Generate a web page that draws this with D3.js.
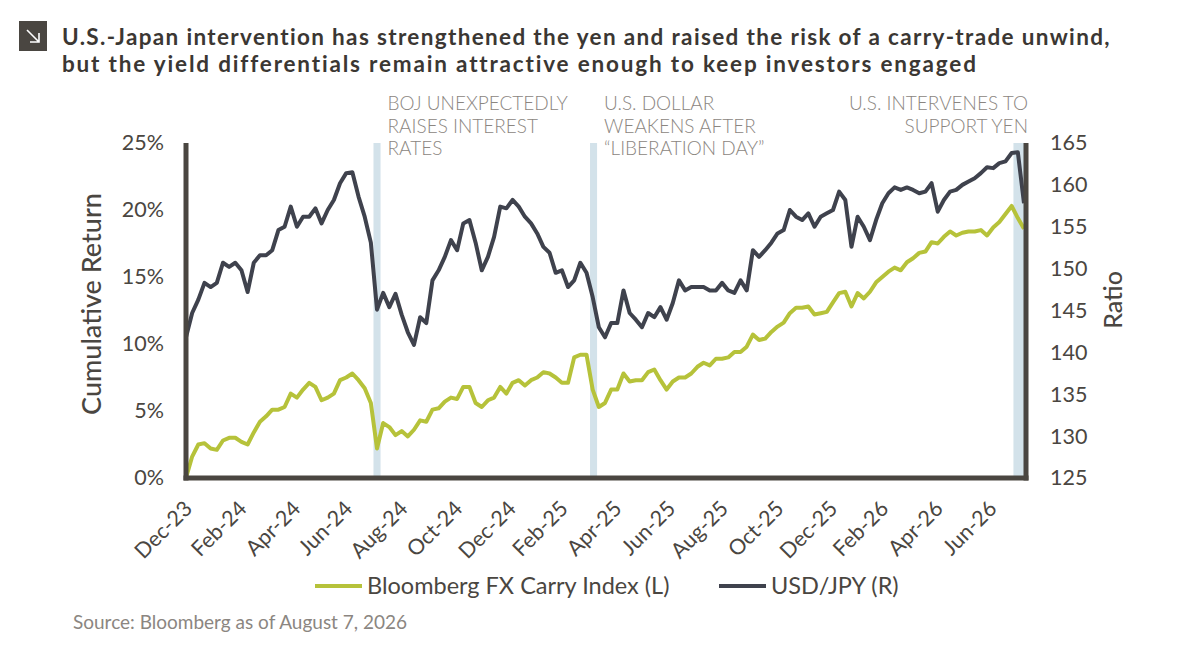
<!DOCTYPE html>
<html>
<head>
<meta charset="utf-8">
<script src="https://cdn.jsdelivr.net/npm/d3@7"></script>
<style>
  body { margin: 0; background: #fff; }
  svg { display: block; font-family: Lato, "Open Sans", sans-serif; }
</style>
</head>
<body>
<svg id="chart" width="1200" height="649"></svg>
<script>
// weekly closes, first Friday is 29 Dec 2023, last is 7 Aug 2026
var startDate = "2023-12-29";

var carryIndex = [
  0.0, 1.6, 2.5, 2.6, 2.2, 2.1, 2.8, 3.0, 3.0, 2.7,
  2.5, 3.4, 4.2, 4.6, 5.1, 5.1, 5.3, 6.3, 6.0, 6.6,
  7.1, 6.8, 5.8, 6.0, 6.3, 7.3, 7.5, 7.8, 7.3, 6.7,
  5.6, 2.2, 4.1, 3.8, 3.2, 3.5, 3.1, 3.6, 4.3, 4.2,
  5.1, 5.2, 5.7, 6.0, 5.9, 6.8, 6.8, 5.6, 5.3, 5.8,
  6.0, 6.8, 6.3, 7.1, 7.3, 6.9, 7.3, 7.5, 7.9, 7.8,
  7.5, 7.1, 7.1, 9.0, 9.2, 9.2, 6.6, 5.3, 5.6, 6.6,
  6.6, 7.8, 7.2, 7.3, 7.3, 7.9, 8.1, 7.3, 6.6, 7.2,
  7.5, 7.5, 7.8, 8.3, 8.6, 8.4, 8.9, 8.9, 9.0, 9.4,
  9.4, 9.8, 10.7, 10.3, 10.4, 10.9, 11.3, 11.6, 12.3, 12.7,
  12.7, 12.8, 12.2, 12.3, 12.4, 13.1, 13.8, 13.9, 12.8, 13.8,
  13.4, 13.9, 14.6, 15.0, 15.4, 15.7, 15.5, 16.1, 16.4, 16.8,
  16.9, 17.6, 17.5, 18.0, 18.4, 18.1, 18.3, 18.4, 18.4, 18.5,
  18.1, 18.7, 19.1, 19.7, 20.3, 19.4, 18.6
];

var usdJpy = [
  141.8, 144.7, 146.3, 148.3, 147.8, 148.3, 150.7, 150.2, 150.7, 149.8,
  147.2, 150.7, 151.6, 151.6, 152.2, 154.6, 155.0, 157.4, 155.0, 156.2,
  156.2, 157.2, 155.4, 157.0, 158.2, 160.2, 161.4, 161.5, 158.6, 156.2,
  153.1, 145.1, 147.1, 145.4, 147.0, 144.5, 142.4, 140.9, 144.2, 143.5,
  148.6, 149.8, 151.4, 153.4, 152.2, 155.4, 155.8, 153.1, 149.8, 151.4,
  153.8, 157.4, 157.2, 158.2, 157.4, 156.2, 155.4, 154.2, 152.6, 151.9,
  149.5, 149.8, 147.8, 148.6, 150.7, 149.5, 146.6, 143.0, 141.8, 143.5,
  143.5, 147.4, 144.7, 143.9, 143.0, 144.7, 144.2, 145.4, 143.9, 145.9,
  148.6, 147.4, 147.8, 147.8, 147.8, 147.4, 147.4, 148.3, 147.4, 147.1,
  148.6, 147.4, 152.2, 151.4, 152.2, 153.1, 154.2, 154.6, 157.0, 156.2,
  155.8, 156.6, 155.0, 156.2, 156.6, 157.0, 159.2, 158.2, 152.6, 156.2,
  155.0, 153.4, 155.8, 157.8, 159.0, 159.7, 159.4, 159.7, 159.4, 159.0,
  159.2, 160.2, 156.8, 158.2, 159.2, 159.4, 160.0, 160.4, 160.8, 161.4,
  162.1, 162.0, 162.6, 162.8, 163.8, 163.9, 157.8
];

var tickDates = [
  "2023-12-29", "2024-02-29", "2024-04-30", "2024-06-28", "2024-08-30", "2024-10-31",
  "2024-12-31", "2025-02-28", "2025-04-30", "2025-06-30", "2025-08-29", "2025-10-31",
  "2025-12-31", "2026-02-27", "2026-04-30", "2026-06-30"
];
var leftTicks = [0, 5, 10, 15, 20, 25];
var rightTicks = [125, 130, 135, 140, 145, 150, 155, 160, 165];

var events = [
  { from: "2024-07-29", to: "2024-08-06", label: ["BOJ UNEXPECTEDLY", "RAISES INTEREST", "RATES"], anchor: "start" },
  { from: "2025-04-01", to: "2025-04-09", label: ["U.S. DOLLAR", "WEAKENS AFTER", "\u201cLIBERATION DAY\u201d"], anchor: "start" },
  { from: "2026-07-26", to: "2026-08-07", label: ["U.S. INTERVENES TO", "SUPPORT YEN"], anchor: "end" }
];

var seriesNames = ["Bloomberg FX Carry Index (L)", "USD/JPY (R)"];
var titleLines = [
  "U.S.-Japan intervention has strengthened the yen and raised the risk of a carry-trade unwind,",
  "but the yield differentials remain attractive enough to keep investors engaged"
];
var sourceText = "Source: Bloomberg as of August 7, 2026";

var parse = d3.timeParse("%Y-%m-%d");
var t0 = parse(startDate);
var dates = carryIndex.map(function(d, i) { return d3.timeDay.offset(t0, 7 * i); });

var data = dates.map(function(d, i) { return { date: d, carry: carryIndex[i], jpy: usdJpy[i] }; });

var ink = "#4a4641", grayText = "#8b8681", lime = "#b6c23a", navy = "#3f424d", band = "#d3e2ea";

var margin = { top: 143, left: 186, right: 1026, bottom: 478 };

var svg = d3.select("#chart");

// ======== scales
var x = d3.scaleTime()
  .domain([t0, dates[dates.length - 1]])
  .range([margin.left, margin.right - 2]);

var yL = d3.scaleLinear().domain([0, 25]).range([margin.bottom, margin.top]);
var yR = d3.scaleLinear().domain([125, 165]).range([margin.bottom, margin.top]);

// ======== title
var icon = svg.append("g").attr("transform", "translate(19,21)");
icon.append("rect").attr("width", 28).attr("height", 30).attr("fill", ink);
icon.append("path")
  .attr("d", "M8,9 L20,21 M11,21 L20,21 L20,12")
  .attr("fill", "none").attr("stroke", "#fff").attr("stroke-width", 1.6);

var title = svg.append("g").attr("fill", "#3b3733").attr("font-weight", 700).attr("font-size", 22.5);
var titleWidths = [1048, 913];
titleLines.forEach(function(line, i) {
  var t = title.append("text").attr("x", 62).attr("y", 45 + i * 27).text(line);
  // stretch letter spacing so each line spans the same width as the original
  var spacing = (titleWidths[i] - t.node().getComputedTextLength()) / (line.length - 1);
  t.attr("letter-spacing", spacing);
});

// ======== event bands + notes
events.forEach(function(e) {
  var a = x(parse(e.from)), b = x(parse(e.to));
  svg.append("rect")
    .attr("x", a).attr("y", margin.top)
    .attr("width", b - a).attr("height", margin.bottom - margin.top)
    .attr("fill", band);

  var tx = e.anchor === "start" ? b + 7 : b + 4;
  var note = svg.append("text")
    .attr("text-anchor", e.anchor)
    .attr("fill", grayText)
    .attr("font-size", 19)
    .attr("font-weight", 300);
  e.label.forEach(function(line, i) {
    note.append("tspan").attr("x", tx).attr("y", 110 + i * 22.5).text(line);
  });
});

// ======== lines
var lineCarry = d3.line()
  .x(function(d) { return x(d.date); })
  .y(function(d) { return yL(d.carry); });

var lineJpy = d3.line()
  .x(function(d) { return x(d.date); })
  .y(function(d) { return yR(d.jpy); });

svg.append("path").attr("d", lineJpy(data))
  .attr("fill", "none").attr("stroke", navy).attr("stroke-width", 4).attr("stroke-linejoin", "round");
svg.append("path").attr("d", lineCarry(data))
  .attr("fill", "none").attr("stroke", lime).attr("stroke-width", 4).attr("stroke-linejoin", "round");

// ======== axes
var frame = svg.append("g").attr("stroke", ink).attr("stroke-width", 5);
frame.append("line").attr("x1", margin.left).attr("x2", margin.left).attr("y1", margin.top).attr("y2", margin.bottom + 2.5);
frame.append("line").attr("x1", margin.right).attr("x2", margin.right).attr("y1", margin.top).attr("y2", margin.bottom + 2.5);
frame.append("line").attr("x1", margin.left - 2.5).attr("x2", margin.right + 2.5).attr("y1", margin.bottom).attr("y2", margin.bottom);

var axL = svg.append("g")
  .attr("transform", "translate(" + margin.left + ",0)")
  .call(d3.axisLeft(yL).tickValues(leftTicks).tickFormat(function(d) { return d + "%"; }).tickSize(0).tickPadding(22));

var axR = svg.append("g")
  .attr("transform", "translate(" + margin.right + ",0)")
  .call(d3.axisRight(yR).tickValues(rightTicks).tickSize(0).tickPadding(24));

var axX = svg.append("g")
  .attr("transform", "translate(0," + margin.bottom + ")")
  .call(d3.axisBottom(x).tickValues(tickDates.map(parse)).tickFormat(d3.timeFormat("%b-%y")).tickSize(0));

[axL, axR, axX].forEach(function(ax) {
  ax.select(".domain").remove();
  ax.selectAll("text").attr("fill", ink).attr("font-size", 21.5).attr("font-family", "Lato, sans-serif");
});

axX.selectAll("text")
  .attr("text-anchor", "end")
  .attr("dy", 0).attr("y", 0)
  .attr("transform", "translate(7,32) rotate(-45)");

// axis titles
svg.append("text")
  .attr("transform", "translate(101,304) rotate(-90)")
  .attr("text-anchor", "middle")
  .attr("fill", ink).attr("font-size", 27).attr("font-weight", 500)
  .text("Cumulative Return");

svg.append("text")
  .attr("transform", "translate(1122,300) rotate(-90)")
  .attr("text-anchor", "middle")
  .attr("fill", ink).attr("font-size", 25).attr("font-weight", 500)
  .text("Ratio");

// ======== legend
var legend = svg.append("g").attr("font-size", 23.5).attr("fill", ink);
var lx = [315, 719], colors = [lime, navy];
seriesNames.forEach(function(name, i) {
  legend.append("line")
    .attr("x1", lx[i]).attr("x2", lx[i] + 47)
    .attr("y1", 586).attr("y2", 586)
    .attr("stroke", colors[i]).attr("stroke-width", 4);
  legend.append("text").attr("x", lx[i] + 52).attr("y", 594).text(name);
});

// ======== source
svg.append("text")
  .attr("x", 73).attr("y", 629)
  .attr("fill", grayText).attr("font-size", 19)
  .text(sourceText);
</script>
</body>
</html>
